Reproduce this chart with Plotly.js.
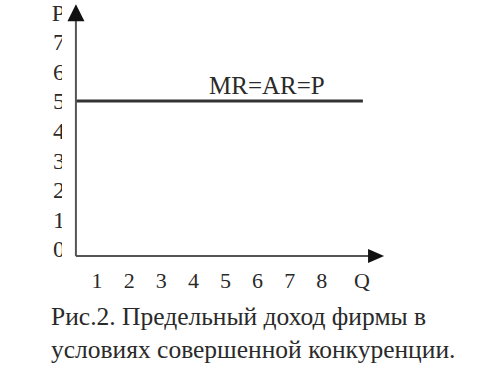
<!DOCTYPE html>
<html>
<head>
<meta charset="utf-8">
<script src="https://cdn.plot.ly/plotly-3.0.1.min.js"></script>
<style>html,body{margin:0;padding:0;background:#fff;}#chart{width:494px;height:378px;}</style>
</head>
<body>
<div id="chart"></div>
<script>
// Data
const qTicks = [1, 2, 3, 4, 5, 6, 7, 8];
const qTickLabels = ['1', '2', '3', '4', '5', '6', '7', '8'];
const pTicks = [0, 1, 2, 3, 4, 5, 6, 7];
const pTickLabels = ['0', '1', '2', '3', '4', '5', '6', '7'];
const qAxisName = 'Q';
const pAxisName = 'P';
const mrQ = [0.34, 9.28];
const mrP = [5, 5];
const curveLabel = 'MR=AR=P';
const caption = 'Рис.2. Предельный доход фирмы в<br>условиях совершенной конкуренции.';

// Geometry of the drawn axes (in data units)
const axisQ0 = 0.34, axisP0 = -0.24;
const axisQEnd = 9.94, axisPEnd = 8.27;
const xRange = [-2.025, 13.364];
const yRange = [-4.358, 8.412];

const W = 494, H = 378;
const xPerPx = (xRange[1] - xRange[0]) / W;
const yPerPx = (yRange[1] - yRange[0]) / H;

const serif = 'Liberation Serif, Times New Roman, serif';
const txt = '#2a2a2a';

// arrowheads
const yHeadLen = 17 * yPerPx, yHeadHalf = 8.5 * xPerPx;
const xHeadLen = 16 * xPerPx, xHeadHalf = 7 * yPerPx;

const shapes = [
  // cover that trims the left-side labels like in the scan
  {type: 'rect', xref: 'paper', yref: 'paper', x0: 62 / W, x1: 73 / W, y0: (H - 262) / H, y1: 1,
   fillcolor: '#fff', line: {width: 0}, layer: 'above'},
  // y axis line
  {type: 'line', xref: 'x', yref: 'y', x0: axisQ0, x1: axisQ0, y0: axisP0, y1: axisPEnd - yHeadLen * 0.8,
   line: {color: '#555', width: 2}, layer: 'above'},
  // x axis line
  {type: 'line', xref: 'x', yref: 'y', x0: axisQ0, x1: axisQEnd - xHeadLen * 0.8, y0: axisP0, y1: axisP0,
   line: {color: '#555', width: 2}, layer: 'above'},
  // y arrowhead
  {type: 'path', xref: 'x', yref: 'y', layer: 'above',
   path: `M ${axisQ0} ${axisPEnd} L ${axisQ0 - yHeadHalf} ${axisPEnd - yHeadLen} L ${axisQ0 + yHeadHalf} ${axisPEnd - yHeadLen} Z`,
   fillcolor: '#111', line: {width: 0}},
  // x arrowhead
  {type: 'path', xref: 'x', yref: 'y', layer: 'above',
   path: `M ${axisQEnd} ${axisP0} L ${axisQEnd - xHeadLen} ${axisP0 + xHeadHalf} L ${axisQEnd - xHeadLen} ${axisP0 - xHeadHalf} Z`,
   fillcolor: '#111', line: {width: 0}}
];

const traces = [{
  type: 'scatter', mode: 'lines', x: mrQ, y: mrP,
  line: {color: '#333', width: 3}, hoverinfo: 'skip', showlegend: false
}];

const layout = {
  width: W, height: H,
  margin: {l: 0, r: 0, t: 0, b: 0},
  paper_bgcolor: '#fff', plot_bgcolor: '#fff',
  showlegend: false,
  font: {family: serif, size: 22, color: txt},
  xaxis: {
    range: xRange, showgrid: false, zeroline: false, showline: false, ticks: '',
    tickvals: qTicks.concat([9.25]), ticktext: qTickLabels.concat([qAxisName]),
    anchor: 'free', position: (H - 256) / H, ticklabelstandoff: 9, ticklabeloverflow: 'allow',
    tickfont: {family: serif, size: 22, color: txt}, fixedrange: true
  },
  yaxis: {
    range: yRange, showgrid: false, zeroline: false, showline: false, ticks: '',
    tickvals: pTicks.concat([8]), ticktext: pTickLabels.concat([pAxisName]),
    anchor: 'free', position: 76 / W, ticklabelstandoff: 11, ticklabeloverflow: 'allow',
    tickfont: {family: serif, size: 24, color: txt}, fixedrange: true
  },
  shapes: shapes,
  annotations: [
    {x: 6.28, y: 5, xref: 'x', yref: 'y', text: curveLabel, showarrow: false,
     xanchor: 'center', yanchor: 'bottom', yshift: 0,
     font: {family: serif, size: 25, color: txt}},
    {x: 49 / W, y: (H - 300) / H, xref: 'paper', yref: 'paper', text: caption, showarrow: false,
     xanchor: 'left', yanchor: 'top', align: 'left',
     font: {family: serif, size: 25.5, color: txt}}
  ]
};

Plotly.newPlot('chart', traces, layout, {staticPlot: true, displayModeBar: false});
</script>
</body>
</html>
